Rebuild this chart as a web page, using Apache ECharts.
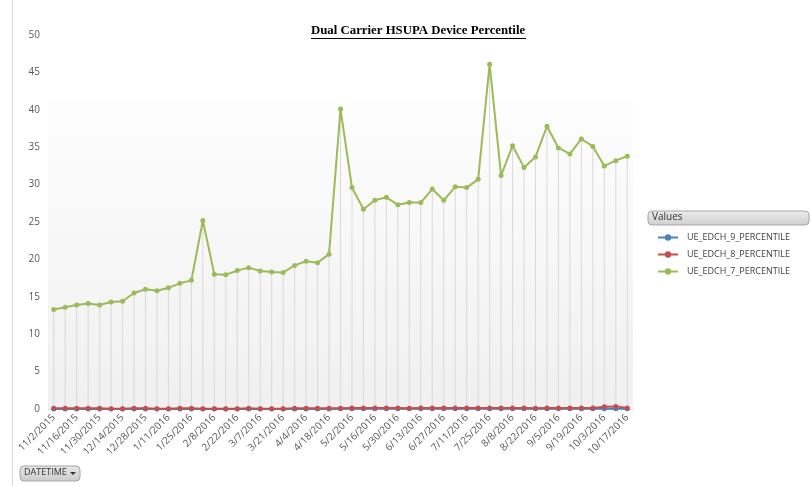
<!DOCTYPE html>
<html><head><meta charset="utf-8">
<script src="https://cdn.jsdelivr.net/npm/echarts@6/dist/echarts.min.js"></script>
<style>html,body{margin:0;padding:0;background:#fff}#c{width:811px;height:486px}</style>
</head><body><div id="c"></div>
<script>
const dates = ["11/2/2015","11/9/2015","11/16/2015","11/23/2015","11/30/2015","12/7/2015","12/14/2015","12/21/2015","12/28/2015",
"1/4/2016","1/11/2016","1/18/2016","1/25/2016","2/1/2016","2/8/2016","2/15/2016","2/22/2016","2/29/2016","3/7/2016","3/14/2016",
"3/21/2016","3/28/2016","4/4/2016","4/11/2016","4/18/2016","4/25/2016","5/2/2016","5/9/2016","5/16/2016","5/23/2016","5/30/2016",
"6/6/2016","6/13/2016","6/20/2016","6/27/2016","7/4/2016","7/11/2016","7/18/2016","7/25/2016","8/1/2016","8/8/2016","8/15/2016",
"8/22/2016","8/29/2016","9/5/2016","9/12/2016","9/19/2016","9/26/2016","10/3/2016","10/10/2016","10/17/2016"];
const p7 = [13.3,13.6,13.9,14.1,13.9,14.3,14.4,15.5,16.0,15.8,
16.2,16.8,17.2,25.2,18.0,17.95,18.5,18.9,18.45,18.3,
18.25,19.2,19.75,19.55,20.7,40.1,29.6,26.7,27.9,28.3,
27.3,27.6,27.6,29.4,27.9,29.7,29.6,30.7,46.1,31.2,
35.2,32.3,33.7,37.8,34.9,34.1,36.1,35.1,32.5,33.2,33.8];
const p8 = [0.1,0.1,0.1,0.1,0.1,0.05,0.05,0.1,0.1,0.05,
0.05,0.1,0.1,0.05,0.05,0.05,0.05,0.1,0.05,0.05,
0.05,0.1,0.1,0.1,0.1,0.1,0.15,0.15,0.15,0.15,
0.15,0.1,0.15,0.15,0.15,0.15,0.15,0.15,0.15,0.15,
0.15,0.15,0.1,0.15,0.15,0.15,0.15,0.15,0.3,0.35,0.15];
const p9 = [0,0,0,0,0,0,0,0,0,0,
0,0,0,0,0,0,0,0,0,0,
0,0,0,0,0,0.02,0.02,0.02,0.02,0.02,
0.02,0.02,0.02,0.02,0.02,0.02,0.02,0.02,0.02,0.02,
0.02,0.02,0.02,0.02,0.02,0.02,0.02,0.02,0.02,0.02,0.02];
const yTicks = {min:0, max:50, interval:5};
const names = ["UE_EDCH_9_PERCENTILE","UE_EDCH_8_PERCENTILE","UE_EDCH_7_PERCENTILE"];
const colors = ["#4f81bd","#c0504d","#9bbb59"];

const chart = echarts.init(document.getElementById('c'), null, {renderer:'canvas'});
const font = "'Open Sans', 'Noto Sans', sans-serif";
function lineSeries(name, data, color, z){
  return {name, type:'line', data, z, symbol:'circle', symbolSize:5, showSymbol:true,
    itemStyle:{color}, lineStyle:{color, width:2}, animation:false};
}
chart.setOption({
  animation:false,
  title:{text:'Dual Carrier HSUPA Device Percentile', left:311, top:24, padding:0,
    textStyle:{fontFamily:"'Liberation Serif', 'Times New Roman', serif", fontWeight:'bold', fontSize:12.8, color:'#000'}},
  grid:{left:48, right:178, top:35, bottom:77, show:true, borderWidth:0,
    backgroundColor:{type:'linear', x:0, y:0, x2:0, y2:1, colorStops:[
      {offset:0,color:'#ffffff'},{offset:0.17,color:'#ffffff'},{offset:0.175,color:'#fdfdfd'},{offset:1,color:'#f0f0f0'}]}},
  legend:{data:names, orient:'vertical', left:652, top:228, itemGap:8, itemWidth:20, itemHeight:8,
    textStyle:{fontFamily:font, fontSize:9, color:'#404040', padding:[0,0,0,4]}},
  xAxis:{type:'category', data:dates, boundaryGap:true,
    axisLine:{show:true, lineStyle:{color:'#d9d9d9'}}, axisTick:{show:false},
    axisLabel:{rotate:45, interval:1, fontFamily:font, fontSize:10, color:'#595959', margin:7},
    splitLine:{show:false}},
  yAxis:{type:'value', min:yTicks.min, max:yTicks.max, interval:yTicks.interval,
    axisLine:{show:false}, axisTick:{show:false}, splitLine:{show:false},
    axisLabel:{fontFamily:font, fontSize:10, color:'#595959', margin:8}},
  series:[
    {name:'drop', type:'bar', data:p7, barWidth:1, silent:true, z:1,
      itemStyle:{color:'#d9d9d9'}, legendHoverLink:false},
    lineSeries(names[0], p9, colors[0], 3),
    lineSeries(names[1], p8, colors[1], 4),
    lineSeries(names[2], p7, colors[2], 5)
  ],
  graphic:[
    {type:'line', shape:{x1:12.5,y1:0,x2:12.5,y2:486}, style:{stroke:'#d9d9d9', lineWidth:1}},
    {type:'line', shape:{x1:311,y1:38.5,x2:526,y2:38.5}, style:{stroke:'#000', lineWidth:1}},
    {type:'rect', shape:{x:648,y:211,width:161,height:14,r:4},
      style:{fill:{type:'linear',x:0,y:0,x2:0,y2:1,colorStops:[{offset:0,color:'#ececec'},{offset:1,color:'#cfcfcf'}]}, stroke:'#a6a6a6', lineWidth:1}},
    {type:'text', left:652, top:212, style:{text:'Values', fontFamily:font, fontSize:10, fill:'#333'}},
    {type:'rect', shape:{x:20,y:466,width:60,height:15,r:4},
      style:{fill:{type:'linear',x:0,y:0,x2:0,y2:1,colorStops:[{offset:0,color:'#e6e6e6'},{offset:1,color:'#cccccc'}]}, stroke:'#a6a6a6', lineWidth:1}},
    {type:'text', left:24, top:468, style:{text:'DATETIME', fontFamily:font, fontSize:9, fill:'#333'}},
    {type:'polygon', shape:{points:[[70,472],[76,472],[73,475]]}, style:{fill:'#333'}}
  ]
});
</script></body></html>
